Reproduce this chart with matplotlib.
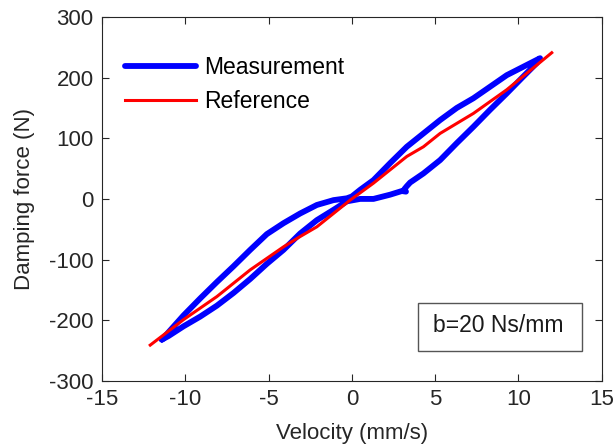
import numpy as np
import matplotlib.pyplot as plt
from matplotlib.patches import Rectangle

plt.rcParams['font.family'] = ['Liberation Sans', 'DejaVu Sans']
plt.rcParams['axes.unicode_minus'] = False

# measurement loop: upper branch (left -> right), then lower branch (right -> left)
meas_up_v = [-11.4, -10.1, -9.1, -8.1, -7.1, -6.1, -5.1, -4.1, -3.1, -2.1, -1.1, -0.3,
             0.0, 0.5, 1.3, 2.3, 3.3, 4.3, 5.3, 6.3, 7.3, 8.3, 9.3, 10.3, 11.3]
meas_up_f = [-232, -192, -164, -137, -111, -84, -58, -40, -24, -10, -2, 1,
             4, 15, 31, 59, 86, 108, 130, 150, 166, 185, 204, 218, 232]
meas_dn_v = [11.3, 11.1, 10.3, 9.3, 8.3, 7.3, 6.3, 5.3, 4.3, 3.5, 3.3, 3.15, 3.25, 3.0,
             2.3, 1.3, 0.5, -0.3, -1.1, -2.1, -3.1, -4.1, -5.1, -6.1, -7.1, -8.1,
             -9.1, -10.1, -11.0, -11.4]
meas_dn_f = [232, 224, 202, 174, 147, 119, 92, 64, 42, 27, 21, 16, 12, 13,
             7, 0, 0, -4, -18, -35, -57, -84, -107, -132, -155, -176,
             -194, -210, -226, -232]

ref_v = [-12.1, -10.1, -8.1, -6.1, -4.1, -3.1, -2.1, -1.1, -0.1, 1.3, 3.3, 4.3, 5.3, 7.3, 9.3, 12.0]
ref_f = [-241, -199, -161, -117, -79, -62, -46, -24, -2, 26, 70, 86, 108, 141, 180, 241]

fig = plt.figure(figsize=(6.14, 4.46), dpi=100)
ax = fig.add_axes([0.166, 0.146, 0.814, 0.816])

ax.plot(meas_up_v + meas_dn_v, meas_up_f + meas_dn_f, color='#0000ff', lw=4.2,
        solid_joinstyle='round', solid_capstyle='round', label='Measurement')
ax.plot(ref_v, ref_f, color='#ff0000', lw=2.2, label='Reference')

ax.set_xlim(-15, 15)
ax.set_ylim(-300, 300)
ax.set_xticks(np.arange(-15, 16, 5))
ax.set_yticks(np.arange(-300, 301, 100))
ax.tick_params(direction='in', top=True, right=True, length=5, width=0.8,
               labelsize=16, colors='#262626', pad=6)
for s in ax.spines.values():
    s.set_color('#262626')
    s.set_linewidth(0.8)

ax.set_xlabel('Velocity (mm/s)', fontsize=16, color='#262626', labelpad=9)
ax.set_ylabel('Damping force (N)', fontsize=16, color='#262626', labelpad=10)

ax.legend(loc='upper left', bbox_to_anchor=(0.046, 0.893), frameon=False, fontsize=16.5,
          handlelength=3.1, handletextpad=0.35, labelspacing=0.48,
          borderaxespad=0, borderpad=0)

ax.add_patch(Rectangle((0.632, 0.082), 0.328, 0.132, transform=ax.transAxes,
                       fc='white', ec='#555555', lw=1, zorder=5))
ax.text(0.792, 0.135, 'b=20 Ns/mm', transform=ax.transAxes, fontsize=16.5,
        ha='center', va='baseline', color='#1a1a1a', zorder=6)

fig.savefig('out.png', dpi=100)
